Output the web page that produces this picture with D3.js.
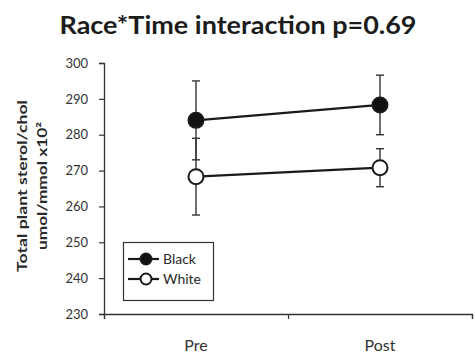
<!DOCTYPE html>
<html>
<head>
<meta charset="utf-8">
<script src="https://cdn.jsdelivr.net/npm/d3@7"></script>
<style>
  body { margin: 0; background: #fff; }
  text { font-family: Lato, "Open Sans", sans-serif; }
</style>
</head>
<body>
<div id="visualization"></div>
<script>
// data
var times = ["Pre", "Post"];
var groups = ["Black", "White"];
var blackMean = [284, 288.3];
var blackErr = [11, 8.3];
var whiteMean = [268.3, 270.8];
var whiteErr = [10.7, 5.3];
var yTicks = [230, 240, 250, 260, 270, 280, 290, 300];

var width = 475, height = 353;
var plotLeft = 104, plotRight = 472, plotTop = 63, plotBottom = 314;

var svg = d3.select("#visualization")
  .append("svg")
  .attr("width", width)
  .attr("height", height);

var yScale = d3.scaleLinear().domain([230, 300]).range([plotBottom, plotTop]);
var xScale = d3.scaleBand().domain(times).range([plotLeft, plotRight]);
// category boundaries for excel style tick marks
var xEdge = d3.scaleLinear().domain([0, times.length]).range([plotLeft, plotRight]);

// title
svg.append("text")
  .attr("x", 238)
  .attr("y", 34)
  .attr("text-anchor", "middle")
  .attr("font-size", 25)
  .attr("font-weight", "bold")
  .attr("fill", "#1c1c1c")
  .attr("textLength", 357)
  .attr("lengthAdjust", "spacingAndGlyphs")
  .text("Race*Time interaction p=0.69");

// y axis
var yAxis = svg.append("g")
  .attr("transform", "translate(" + plotLeft + ",0)")
  .call(d3.axisLeft(yScale).tickValues(yTicks).tickSize(5).tickPadding(11));
yAxis.selectAll("text").attr("font-size", 13).attr("fill", "#333").attr("font-family", "Lato");
yAxis.select(".domain").attr("stroke", "#333").attr("stroke-width", 1.3);
yAxis.selectAll(".tick line").attr("stroke", "#333").attr("stroke-width", 1.2);

// x axis line + boundary ticks
var xAxis = svg.append("g")
  .attr("transform", "translate(0," + plotBottom + ")")
  .call(d3.axisBottom(xEdge).ticks(times.length).tickSize(5).tickFormat(""));
xAxis.select(".domain").attr("stroke", "#333").attr("stroke-width", 1.3);
xAxis.selectAll(".tick line").attr("stroke", "#333").attr("stroke-width", 1.2);

// x category labels
var xLab = svg.append("g")
  .attr("transform", "translate(0," + plotBottom + ")")
  .call(d3.axisBottom(xScale).tickSize(0).tickPadding(26));
xLab.select(".domain").remove();
xLab.selectAll("text").attr("font-size", 16).attr("fill", "#333").attr("font-family", "Lato");

// y axis title
var yt = svg.append("text")
  .attr("transform", "translate(27,186) rotate(-90)")
  .attr("text-anchor", "middle")
  .attr("font-size", 14)
  .attr("font-weight", "bold")
  .attr("fill", "#2a2a2a");
yt.append("tspan").attr("x", 0).attr("y", 0)
  .attr("textLength", 172).attr("lengthAdjust", "spacingAndGlyphs")
  .text("Total plant sterol/chol");
yt.append("tspan").attr("x", 0).attr("y", 20)
  .attr("textLength", 128).attr("lengthAdjust", "spacingAndGlyphs")
  .text("umol/mmol x10²");

var series = [
  { name: groups[0], mean: blackMean, err: blackErr, fill: "#111" },
  { name: groups[1], mean: whiteMean, err: whiteErr, fill: "#fff" }
];

var cx = function (i) { return xScale(times[i]) + xScale.bandwidth() / 2; };
var line = d3.line()
  .x(function (d, i) { return cx(i); })
  .y(function (d) { return yScale(d); });

series.forEach(function (s) {
  var g = svg.append("g");
  // error bars
  s.mean.forEach(function (m, i) {
    var x = cx(i);
    g.append("line")
      .attr("x1", x).attr("x2", x)
      .attr("y1", yScale(m - s.err[i])).attr("y2", yScale(m + s.err[i]))
      .attr("stroke", "#333").attr("stroke-width", 1.4);
    [m - s.err[i], m + s.err[i]].forEach(function (v) {
      g.append("line")
        .attr("x1", x - 4).attr("x2", x + 4)
        .attr("y1", yScale(v)).attr("y2", yScale(v))
        .attr("stroke", "#333").attr("stroke-width", 1.4);
    });
  });
});

series.forEach(function (s) {
  var g = svg.append("g");
  g.append("path")
    .datum(s.mean)
    .attr("d", line)
    .attr("fill", "none")
    .attr("stroke", "#1a1a1a")
    .attr("stroke-width", 2.2);
  g.selectAll("circle")
    .data(s.mean)
    .enter()
    .append("circle")
    .attr("cx", function (d, i) { return cx(i); })
    .attr("cy", function (d) { return yScale(d); })
    .attr("r", 7.5)
    .attr("fill", s.fill)
    .attr("stroke", "#1a1a1a")
    .attr("stroke-width", 2);
});

// legend
var leg = svg.append("g");
leg.append("rect")
  .attr("x", 123.5).attr("y", 242.5)
  .attr("width", 90).attr("height", 58)
  .attr("fill", "#fff")
  .attr("stroke", "#333")
  .attr("stroke-width", 1.2);
series.forEach(function (s, i) {
  var y = 259 + i * 20;
  leg.append("line")
    .attr("x1", 128).attr("x2", 159)
    .attr("y1", y).attr("y2", y)
    .attr("stroke", "#1a1a1a").attr("stroke-width", 2.2);
  leg.append("circle")
    .attr("cx", 146).attr("cy", y)
    .attr("r", 5.5)
    .attr("fill", s.fill)
    .attr("stroke", "#1a1a1a")
    .attr("stroke-width", 2);
  leg.append("text")
    .attr("x", 163).attr("y", y)
    .attr("dy", "0.35em")
    .attr("font-size", 14)
    .attr("fill", "#2a2a2a")
    .text(s.name);
});
</script>
</body>
</html>
